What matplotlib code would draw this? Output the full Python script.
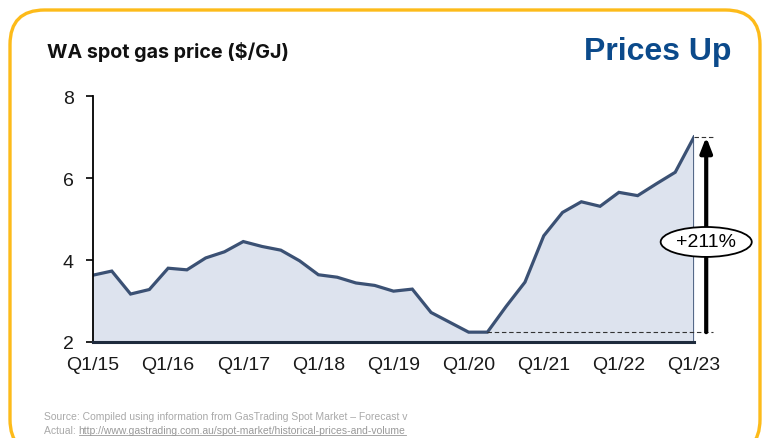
import matplotlib
matplotlib.use("Agg")
import matplotlib.pyplot as plt
from matplotlib.patches import FancyBboxPatch, Ellipse
import numpy as np

quarters = ["Q1/15","Q2/15","Q3/15","Q4/15","Q1/16","Q2/16","Q3/16","Q4/16",
            "Q1/17","Q2/17","Q3/17","Q4/17","Q1/18","Q2/18","Q3/18","Q4/18",
            "Q1/19","Q2/19","Q3/19","Q4/19","Q1/20","Q2/20","Q3/20","Q4/20",
            "Q1/21","Q2/21","Q3/21","Q4/21","Q1/22","Q2/22","Q3/22","Q4/22","Q1/23"]
prices = [3.63, 3.73, 3.17, 3.28, 3.80, 3.76, 4.05, 4.20,
          4.45, 4.33, 4.24, 3.98, 3.64, 3.58, 3.44, 3.38,
          3.24, 3.29, 2.72, 2.48, 2.24, 2.24, 2.87, 3.46,
          4.59, 5.16, 5.42, 5.31, 5.65, 5.57, 5.86, 6.14, 7.00]
tick_labels = ["Q1/15","Q1/16","Q1/17","Q1/18","Q1/19","Q1/20","Q1/21","Q1/22","Q1/23"]
y_ticks = [2, 4, 6, 8]
change_label = "+211%"

W, H = 768, 439
fig = plt.figure(figsize=(W/100, H/100), dpi=100)

def fx(px): return px / W
def fy(py): return 1 - py / H

# rounded yellow frame
frame = FancyBboxPatch((fx(10), fy(455)), fx(750), (455 - 11) / H,
                       boxstyle="round,pad=0,rounding_size=0.045",
                       transform=fig.transFigure, fill=False,
                       edgecolor="#FDBB1A", linewidth=2.4, clip_on=False,
                       mutation_aspect=W / H)
fig.patches.append(frame)

ax = fig.add_axes([fx(93), fy(343), fx(694) - fx(93), (343 - 97) / H])
x = np.arange(len(prices))
ax.fill_between(x, prices, 2, color="#dde3ee", linewidth=0)
ax.plot(x, prices, color="#3b5174", linewidth=2.3, solid_joinstyle="miter")
ax.plot([x[-1], x[-1]], [2, prices[-1]], color="#3b5174", linewidth=1.2)
ax.set_xlim(0, len(prices) - 1)
ax.set_ylim(2, 8)

ax.set_xticks([quarters.index(t) for t in tick_labels])
ax.set_xticklabels(tick_labels)
ax.set_yticks(y_ticks)
ax.set_yticklabels([str(v) for v in y_ticks])
for lab in ax.get_xticklabels() + ax.get_yticklabels():
    lab.set_family("Liberation Sans")
    lab.set_fontsize(14)
    lab.set_color("#1a1a1a")
ax.tick_params(axis="x", length=0, pad=10)
ax.tick_params(axis="y", length=5, width=1.2, pad=9, color="black")
for s in ["top", "right"]:
    ax.spines[s].set_visible(False)
ax.spines["left"].set_linewidth(1.3)
ax.spines["left"].set_color("black")
ax.spines["bottom"].set_linewidth(2.2)
ax.spines["bottom"].set_color("#1e2b3d")
ax.set_facecolor("none")

# annotations: dashed guides and arrow
low = min(prices)
lo_idx = len(prices) - 1 - prices[::-1].index(low)
ax.plot([lo_idx, 33.0], [low, low], color="#333333", linewidth=0.8,
        linestyle=(0, (4, 2.5)), clip_on=False)
ax.plot([x[-1], 33.0], [prices[-1], prices[-1]], color="#333333", linewidth=0.8,
        linestyle=(0, (4, 2.5)), clip_on=False)
ax.annotate("", xy=(32.65, prices[-1]), xytext=(32.65, low),
            arrowprops=dict(arrowstyle="-|>,head_length=0.9,head_width=0.35",
                            color="black", linewidth=3.0, shrinkA=0, shrinkB=0),
            annotation_clip=False)
ell = Ellipse((32.65, 4.44), 4.85, 0.73, facecolor="white", edgecolor="black",
              linewidth=1.3, clip_on=False, zorder=5)
ax.add_patch(ell)
ax.text(32.65, 4.44, change_label, ha="center", va="center",
        fontsize=14, family="Liberation Sans", color="black", zorder=6, clip_on=False)

fig.text(fx(47), fy(52), "WA spot gas price ($/GJ)", fontsize=14.2, fontweight="bold",
         family="Inter", color="#111111", ha="left", va="center")
fig.text(fx(731), fy(52), "Prices Up", fontsize=23, fontweight="bold",
         family="Liberation Sans", color="#0B4A8B", ha="right", va="center")

fig.text(fx(44), fy(417), "Source: Compiled using information from GasTrading Spot Market \u2013 Forecast v",
         fontsize=7.45, family="Liberation Sans", color="#a9a9a9", ha="left", va="center")
t1 = fig.text(fx(44), fy(431), "Actual: ", fontsize=7.45, family="Liberation Sans",
              color="#a9a9a9", ha="left", va="center")
fig.canvas.draw()
bb = t1.get_window_extent()
t2 = fig.text(bb.x1 / W, fy(431), "http://www.gastrading.com.au/spot-market/historical-prices-and-volume",
              fontsize=7.45, family="Liberation Sans", color="#999999", ha="left", va="center")
fig.canvas.draw()
bb2 = t2.get_window_extent()
fig.add_artist(plt.Line2D([bb2.x0 / W, bb2.x1 / W], [bb2.y0 / H + 0.001, bb2.y0 / H + 0.001],
                          transform=fig.transFigure, color="#999999", linewidth=0.6))

fig.savefig("out.png", dpi=100)
